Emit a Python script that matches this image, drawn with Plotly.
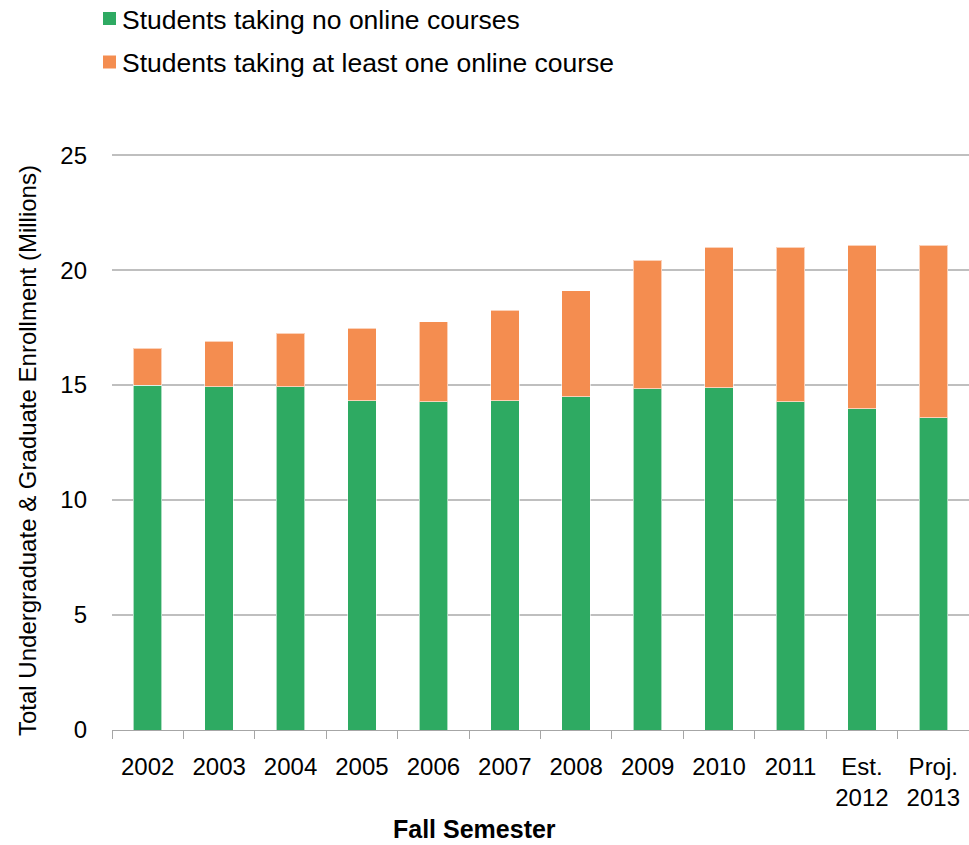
import plotly.graph_objects as go

# Fall enrollment, millions of students
semesters = ["2002", "2003", "2004", "2005", "2006", "2007", "2008",
             "2009", "2010", "2011", "Est.<br>2012", "Proj.<br>2013"]
no_online = [15.00, 14.93, 14.93, 14.32, 14.28, 14.32, 14.49,
             14.84, 14.88, 14.28, 13.97, 13.58]
some_online = [1.60, 1.98, 2.33, 3.16, 3.47, 3.93, 4.61,
               5.58, 6.12, 6.72, 7.12, 7.51]
y_ticks = [0, 5, 10, 15, 20, 25]

GREEN = "#2EAA62"
ORANGE = "#F48D50"
FONT = "Liberation Sans, Arial, sans-serif"

W, H = 969, 845
L, R, T, B = 112, 0, 154, 115
PW, PH = W - L - R, H - T - B


def px_x(x):
    return (x - L) / PW


def px_y(y):
    return (H - B - y) / PH


series = [
    ("Students taking no online courses", no_online, GREEN),
    ("Students taking at least one online course", some_online, ORANGE),
]

fig = go.Figure()
for name, vals, color in series:
    fig.add_trace(go.Bar(
        x=semesters, y=vals, name=name, showlegend=False,
        marker=dict(color=color, line=dict(color="rgba(255,255,255,0.6)", width=1)),
    ))

# legend drawn as swatches and labels at the top left
for i, (name, _, color) in enumerate(series):
    cy = 18.5 + 43.5 * i
    fig.add_shape(
        type="rect", xref="paper", yref="paper",
        x0=px_x(103), x1=px_x(116), y0=px_y(cy - 6.5), y1=px_y(cy + 6.5),
        fillcolor=color, line=dict(width=0),
    )
    fig.add_annotation(
        text=name, xref="paper", yref="paper",
        x=px_x(120), y=px_y(cy + 1), xanchor="left", yanchor="middle",
        showarrow=False, font=dict(size=26.5),
    )

fig.update_layout(
    width=W, height=H,
    margin=dict(l=L, r=R, t=T, b=B),
    barmode="stack", bargap=0.6,
    plot_bgcolor="white", paper_bgcolor="white",
    font=dict(family=FONT, size=24, color="#000000"),
    showlegend=False,
)

fig.update_yaxes(
    range=[0, 25.05], tickvals=y_ticks, showgrid=True,
    gridcolor="#BFBFBF", gridwidth=1.5, zeroline=False,
    showline=False, ticks="", ticklabelstandoff=24,
    tickfont=dict(size=24),
)
fig.update_xaxes(
    type="category", tickson="boundaries", ticks="outside",
    ticklen=8, tickcolor="#A6A6A6", tickwidth=1,
    showline=True, linecolor="#A6A6A6", linewidth=1,
    showgrid=False, tickfont=dict(size=24), ticklabelstandoff=15,
)

fig.add_annotation(
    text="Total Undergraduate & Graduate Enrollment (Millions)",
    textangle=-90, xref="paper", yref="paper",
    x=px_x(27), y=px_y(451),
    showarrow=False, font=dict(size=24), xanchor="center", yanchor="middle",
)
fig.add_annotation(
    text="<b>Fall Semester</b>", xref="paper", yref="paper",
    x=px_x(474), y=px_y(829),
    showarrow=False, font=dict(size=25), xanchor="center", yanchor="middle",
    borderpad=0,
)

fig.write_html("out.html")
